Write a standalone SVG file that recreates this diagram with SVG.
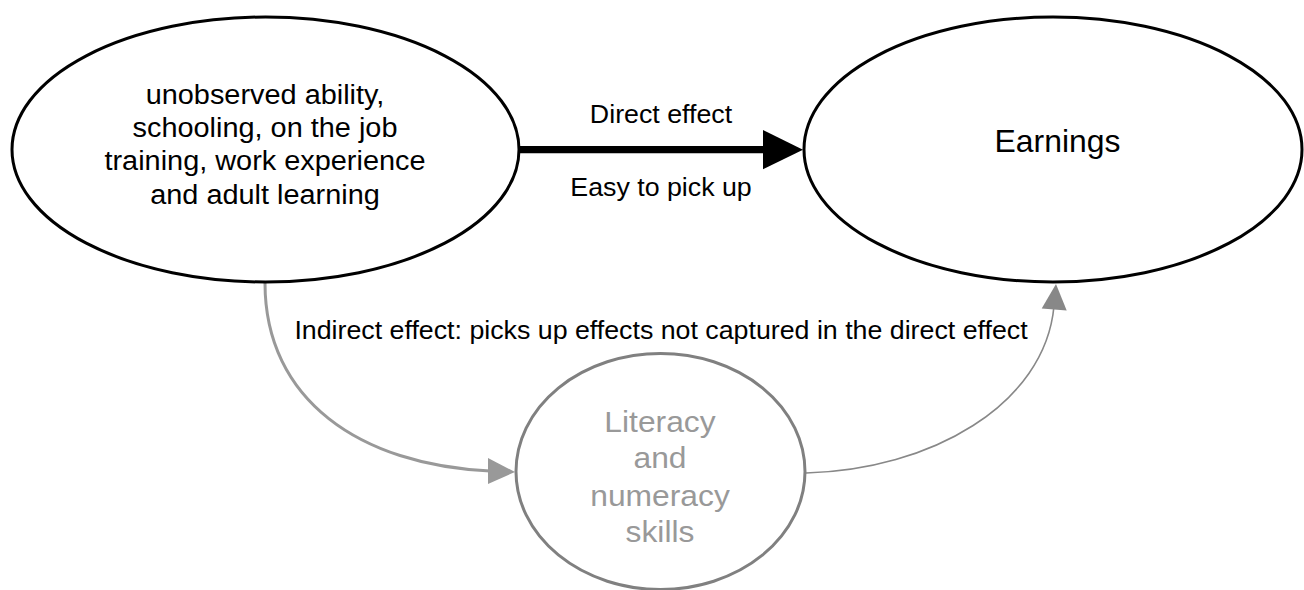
<svg xmlns="http://www.w3.org/2000/svg" width="1304" height="590" viewBox="0 0 1304 590">
  <style>
    text { font-family: "Liberation Sans", Arial, sans-serif; text-anchor: middle; }
    .node { fill: #ffffff; stroke: #000000; stroke-width: 3; }
    .node-grey { fill: #ffffff; stroke: #808080; stroke-width: 3; }
    .big { font-size: 27px; fill: #000000; }
    .label { font-size: 25.5px; fill: #000000; }
    .grey-text { font-size: 30px; fill: #999999; }
    .main-link { stroke: #000000; stroke-width: 7.3; fill: none; }
    .in-link { stroke: #999999; stroke-width: 3; fill: none; }
    .out-link { stroke: #888888; stroke-width: 1.6; fill: none; }
  </style>

  <rect width="1304" height="590" fill="#ffffff"/>

  <!-- connectors -->
  <g id="connectors">
    <g id="direct-effect">
      <line class="main-link" x1="519" y1="149.7" x2="766" y2="149.7"/>
      <polygon points="763,130 803,149.7 763,169.3" fill="#000000"/>
      <text class="label" transform="translate(661,123.3) scale(1.05,1)">Direct effect</text>
      <text class="label" transform="translate(661,196) scale(1.05,1)">Easy to pick up</text>
    </g>
    <g id="indirect-effect">
      <path class="in-link" d="M265,283 C265,400 360,465 490,471"/>
      <polygon points="488,458 515,472 488,484" fill="#999999"/>
      <path class="out-link" d="M806,473 C930,470 1045,405 1054,306"/>
      <polygon points="1041.7,308.5 1056,284 1066.7,310.5" fill="#888888"/>
      <text class="label" transform="translate(661,339) scale(1.05,1)">Indirect effect: picks up effects not captured in the direct effect</text>
    </g>
  </g>

  <!-- source node -->
  <g id="node-inputs">
    <ellipse class="node" cx="265.5" cy="149.5" rx="253.5" ry="132.5"/>
    <g transform="translate(265,0) scale(1.07,1)">
      <text class="big" x="0" y="104">unobserved ability,</text>
      <text class="big" x="0" y="137.3">schooling, on the job</text>
      <text class="big" x="0" y="170.5">training, work experience</text>
      <text class="big" x="0" y="204">and adult learning</text>
    </g>
  </g>

  <!-- outcome node -->
  <g id="node-earnings">
    <ellipse class="node" cx="1053" cy="149.5" rx="249" ry="132.5"/>
    <text class="big" style="font-size:31px" transform="translate(1057.5,151.7) scale(1.03,1)">Earnings</text>
  </g>

  <!-- mediating node -->
  <g id="node-skills">
    <ellipse class="node-grey" cx="660.5" cy="471.5" rx="144.5" ry="118"/>
    <g transform="translate(660,0) scale(1.06,1)">
      <text class="grey-text" x="0" y="431.7">Literacy</text>
      <text class="grey-text" x="0" y="468">and</text>
      <text class="grey-text" x="0" y="505.7">numeracy</text>
      <text class="grey-text" x="0" y="541.7">skills</text>
    </g>
  </g>
</svg>
